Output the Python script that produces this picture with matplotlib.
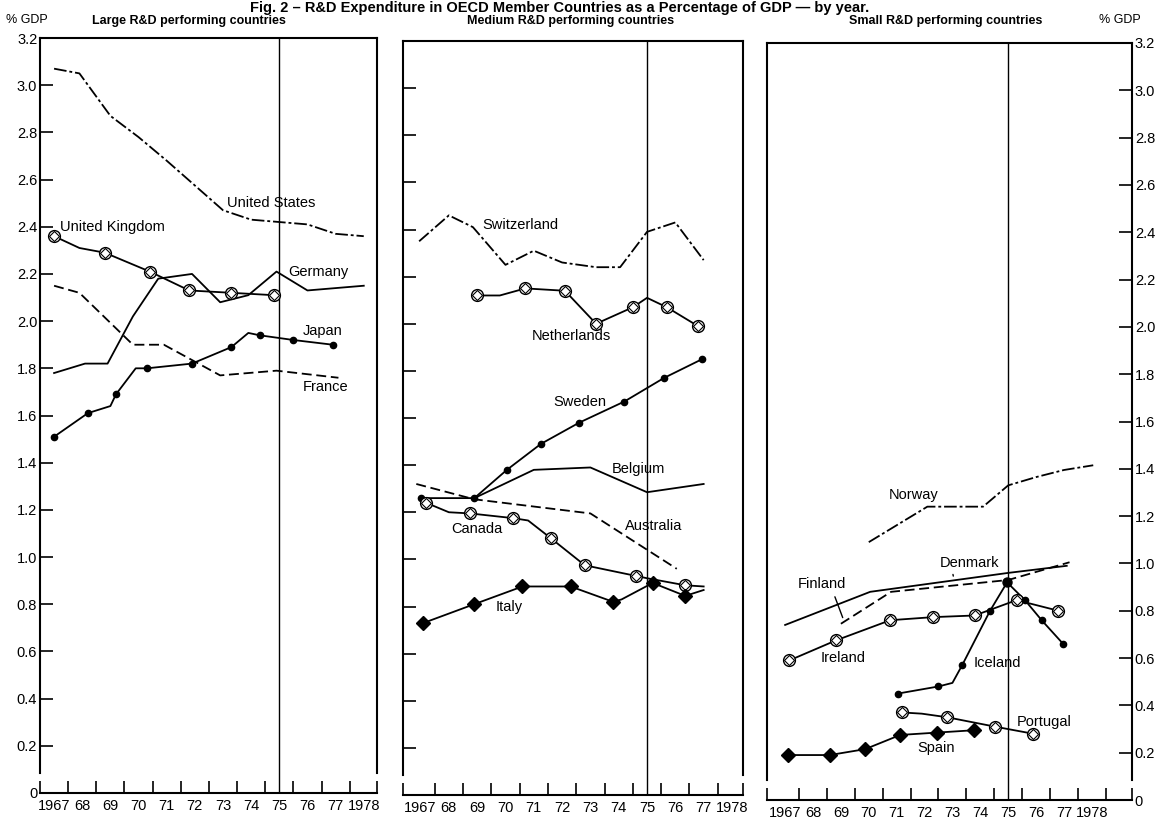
import numpy as np
import matplotlib
matplotlib.use("Agg")
import matplotlib.pyplot as plt

plt.rcParams['font.family'] = ['Liberation Sans', 'DejaVu Sans']

# ---- data (year, % of GDP) ----
# Large R&D performing countries
us_x = [1967, 1967.9, 1969, 1970, 1971, 1972, 1973, 1974, 1975, 1976, 1977, 1978]
us_y = [3.07, 3.05, 2.87, 2.78, 2.68, 2.575, 2.47, 2.43, 2.42, 2.41, 2.37, 2.36]
uk_x = [1967, 1967.9, 1968.8, 1970.4, 1971.8, 1973.3, 1974.8]
uk_y = [2.36, 2.31, 2.29, 2.21, 2.13, 2.12, 2.11]
uk_marks = [0, 2, 3, 4, 5, 6]
de_x = [1967, 1968.1, 1968.9, 1969.8, 1970.7, 1971.9, 1972.9, 1973.9, 1974.9, 1976, 1978]
de_y = [1.78, 1.82, 1.82, 2.02, 2.18, 2.20, 2.08, 2.11, 2.21, 2.13, 2.15]
fr_x = [1967, 1967.9, 1969.8, 1970.9, 1972.9, 1974.9, 1977.1]
fr_y = [2.15, 2.12, 1.90, 1.90, 1.77, 1.79, 1.76]
jp_x = [1967, 1968.2, 1969.0, 1969.2, 1969.9, 1970.3, 1971.9, 1973.3, 1973.9, 1974.3, 1975.5, 1976.9]
jp_y = [1.51, 1.61, 1.64, 1.69, 1.80, 1.80, 1.82, 1.89, 1.95, 1.94, 1.92, 1.90]
jp_marks = [0, 1, 3, 5, 6, 7, 9, 10, 11]

# Medium R&D performing countries
ch_x = [1966.95, 1968.0, 1968.85, 1970.0, 1971.0, 1972.0, 1973.2, 1974.05, 1975.0, 1976.0, 1977.0]
ch_y = [2.35, 2.46, 2.41, 2.25, 2.31, 2.26, 2.24, 2.24, 2.39, 2.43, 2.27]
nl_x = [1969.0, 1969.8, 1970.7, 1972.1, 1973.2, 1974.5, 1975.0, 1975.7, 1976.8]
nl_y = [2.12, 2.12, 2.15, 2.14, 2.00, 2.07, 2.11, 2.07, 1.99]
nl_marks = [0, 2, 3, 4, 5, 7, 8]
se_x = [1968.9, 1970.05, 1971.25, 1972.6, 1974.2, 1975.6, 1976.95]
se_y = [1.26, 1.38, 1.49, 1.58, 1.67, 1.77, 1.85]
be_x = [1967.0, 1968.9, 1971.0, 1973.0, 1975.0, 1977.0]
be_y = [1.26, 1.26, 1.38, 1.39, 1.285, 1.32]
au_x = [1966.85, 1968.9, 1973.0, 1976.05]
au_y = [1.32, 1.255, 1.195, 0.96]
ca_x = [1967.2, 1968.0, 1968.75, 1970.27, 1970.8, 1971.6, 1972.8, 1974.6, 1975.0, 1976.35, 1977.0]
ca_y = [1.24, 1.20, 1.195, 1.175, 1.165, 1.09, 0.975, 0.93, 0.92, 0.89, 0.885]
ca_marks = [0, 2, 3, 5, 6, 7, 9]
it_x = [1967.1, 1968.9, 1970.6, 1972.3, 1973.8, 1974.1, 1975.2, 1976.35, 1977.0]
it_y = [0.73, 0.81, 0.885, 0.885, 0.82, 0.83, 0.90, 0.845, 0.87]
it_marks = [0, 1, 2, 3, 4, 6, 7]

# Small R&D performing countries
no_x = [1970.0, 1972.1, 1974.1, 1975.0, 1976.0, 1977.0, 1978.05]
no_y = [1.09, 1.24, 1.24, 1.33, 1.365, 1.395, 1.415]
dk_x = [1967.0, 1970.05, 1975.0, 1977.1]
dk_y = [0.74, 0.88, 0.96, 0.99]
fi_x = [1969.0, 1970.8, 1975.0, 1977.2]
fi_y = [0.745, 0.88, 0.93, 1.005]
ie_x = [1967.15, 1968.83, 1970.77, 1972.3, 1973.8, 1975.3, 1976.8]
ie_y = [0.59, 0.675, 0.76, 0.773, 0.78, 0.845, 0.80]
is_x = [1971.05, 1972.5, 1973.0, 1973.35, 1974.35, 1974.96, 1975.6, 1976.2, 1976.97]
is_y = [0.45, 0.48, 0.495, 0.57, 0.80, 0.92, 0.845, 0.76, 0.66]
is_marks = [0, 1, 3, 4, 6, 7, 8]
is_peak = [5]
pt_x = [1971.2, 1971.9, 1972.8, 1974.53, 1975.9]
pt_y = [0.37, 0.365, 0.35, 0.31, 0.28]
pt_marks = [0, 2, 3, 4]
es_x = [1967.1, 1968.6, 1969.87, 1971.13, 1972.45, 1973.78]
es_y = [0.19, 0.19, 0.215, 0.275, 0.285, 0.295]

years = list(range(1967, 1979))
year_labels = ['1967'] + [str(y)[2:] for y in years[1:-1]] + ['1978']
y_ticks = np.arange(0, 3.21, 0.2)
y_labels = ['0'] + ['%.1f' % v for v in y_ticks[1:]]

W, H = 1166, 826
fig = plt.figure(figsize=(W / 100, H / 100), dpi=100)


def box(px_left, px_right, px_top, px_bottom):
    return [px_left / W, 1 - px_bottom / H, (px_right - px_left) / W, (px_bottom - px_top) / H]


LW = 1.3
DASHDOT = (0, (7, 1.6, 1.6, 1.6))
DASHED = (0, (5.5, 2.6))
TICKFONT = 10.5


def setup(ax, xlim, side):
    ax.set_xlim(*xlim)
    ax.set_ylim(0, 3.2)
    for s in ax.spines.values():
        s.set_linewidth(1.5)
    ax.spines['left'].set_bounds(0.085, 3.2)
    ax.spines['right'].set_bounds(0.085, 3.2)
    ax.set_xticks(years)
    ax.set_xticklabels(year_labels)
    minor = [y + 0.5 for y in years if y + 0.5 < xlim[1] - 0.2] + [xlim[0], xlim[1]]
    ax.set_xticks(minor, minor=True)
    ax.tick_params(axis='x', which='major', length=0, pad=4, labelsize=TICKFONT)
    ax.tick_params(axis='x', which='minor', direction='in', length=8.5, width=1.2)
    ax.set_yticks(y_ticks)
    ax.set_yticklabels(y_labels)
    if side == 'left':
        ax.tick_params(axis='y', direction='in', length=9.5, width=1.2, labelsize=TICKFONT, pad=2)
    elif side == 'right':
        ax.tick_params(axis='y', direction='in', length=9.5, width=1.2, labelsize=TICKFONT, pad=2,
                       left=False, labelleft=False, right=True, labelright=True)
    else:
        ax.tick_params(axis='y', direction='in', length=9.5, width=1.2, labelleft=False)
    ax.axvline(1975, color='black', lw=1.0)


def circles(ax, x, y, idx):
    xs = [x[i] for i in idx]
    ys = [y[i] for i in idx]
    ax.plot(xs, ys, 'o', ms=8.5, mfc='white', mec='black', mew=1.0, zorder=4)
    ax.plot(xs, ys, 'D', ms=5.5, mfc='none', mec='black', mew=0.8, zorder=5)


def dots(ax, x, y, idx, ms=4.5):
    ax.plot([x[i] for i in idx], [y[i] for i in idx], 'o', ms=ms, color='black', zorder=4)


def diamonds(ax, x, y, idx):
    ax.plot([x[i] for i in idx], [y[i] for i in idx], 'D', ms=7, color='black', zorder=4)


lab = dict(fontsize=10.5, va='center')

# ---- left panel ----
ax1 = fig.add_axes(box(40, 377, 38, 793))
setup(ax1, (1966.5, 1978.47), 'left')
ax1.plot(us_x, us_y, color='black', lw=LW, ls=DASHDOT)
ax1.plot(uk_x, uk_y, color='black', lw=LW)
circles(ax1, uk_x, uk_y, uk_marks)
ax1.plot(de_x, de_y, color='black', lw=LW)
ax1.plot(fr_x, fr_y, color='black', lw=LW, ls=DASHED)
ax1.plot(jp_x, jp_y, color='black', lw=LW)
dots(ax1, jp_x, jp_y, jp_marks)
ax1.text(1974.7, 2.50, 'United States', ha='center', **lab)
ax1.text(1967.2, 2.40, 'United Kingdom', **lab)
ax1.text(1975.3, 2.21, 'Germany', **lab)
ax1.text(1975.85, 1.96, 'Japan', **lab)
ax1.text(1975.85, 1.72, 'France', **lab)

# ---- middle panel ----
ax2 = fig.add_axes(box(403, 743, 41, 795))
setup(ax2, (1966.38, 1978.39), 'none')
ax2.plot(ch_x, ch_y, color='black', lw=LW, ls=DASHDOT)
ax2.plot(nl_x, nl_y, color='black', lw=LW)
circles(ax2, nl_x, nl_y, nl_marks)
ax2.plot(be_x, be_y, color='black', lw=LW)
dots(ax2, be_x, be_y, [0])
ax2.plot(se_x, se_y, color='black', lw=LW)
dots(ax2, se_x, se_y, range(len(se_x)))
ax2.plot(au_x, au_y, color='black', lw=LW, ls=DASHED)
ax2.plot(ca_x, ca_y, color='black', lw=LW)
circles(ax2, ca_x, ca_y, ca_marks)
ax2.plot(it_x, it_y, color='black', lw=LW)
diamonds(ax2, it_x, it_y, it_marks)
ax2.text(1969.17, 2.42, 'Switzerland', **lab)
ax2.text(1970.94, 1.95, 'Netherlands', **lab)
ax2.text(1971.68, 1.67, 'Sweden', **lab)
ax2.text(1973.76, 1.385, 'Belgium', **lab)
ax2.text(1968.1, 1.13, 'Canada', **lab)
ax2.text(1974.22, 1.14, 'Australia', **lab)
ax2.text(1969.66, 0.80, 'Italy', **lab)

# ---- right panel ----
ax3 = fig.add_axes(box(767, 1132, 43, 800))
setup(ax3, (1966.35, 1979.44), 'right')
ax3.plot(no_x, no_y, color='black', lw=LW, ls=DASHDOT)
ax3.plot(dk_x, dk_y, color='black', lw=LW)
ax3.plot(fi_x, fi_y, color='black', lw=LW, ls=DASHED)
ax3.plot(ie_x, ie_y, color='black', lw=LW)
circles(ax3, ie_x, ie_y, range(len(ie_x)))
ax3.plot(is_x, is_y, color='black', lw=LW)
dots(ax3, is_x, is_y, is_marks)
dots(ax3, is_x, is_y, is_peak, ms=6.5)
ax3.plot(pt_x, pt_y, color='black', lw=LW)
circles(ax3, pt_x, pt_y, pt_marks)
ax3.plot(es_x, es_y, color='black', lw=LW)
diamonds(ax3, es_x, es_y, range(len(es_x)))
ax3.text(1970.7, 1.29, 'Norway', **lab)
ax3.text(1972.56, 1.0, 'Denmark', **lab)
ax3.text(1967.44, 0.915, 'Finland', **lab)
ax3.text(1968.26, 0.60, 'Ireland', **lab)
ax3.text(1973.75, 0.58, 'Iceland', **lab)
ax3.text(1975.32, 0.33, 'Portugal', **lab)
ax3.text(1971.74, 0.22, 'Spain', **lab)
ax3.annotate('', xy=(1969.1, 0.76), xytext=(1968.75, 0.87),
             arrowprops=dict(arrowstyle='-', color='black', lw=1.0))
ax3.annotate('', xy=(1973.05, 0.935), xytext=(1973.0, 0.965),
             arrowprops=dict(arrowstyle='-', color='black', lw=1.0))

# ---- headings ----
fig.text(560 / W, 1 - 1 / H,
         'Fig. 2 \u2013 R&D Expenditure in OECD Member Countries as a Percentage of GDP \u2014 by year.',
         ha='center', va='top', fontsize=10.5, fontweight='bold')
fig.text(189 / W, 1 - 21 / H, 'Large R&D performing countries', ha='center', va='center',
         fontsize=9, fontweight='bold')
fig.text(571 / W, 1 - 21 / H, 'Medium R&D performing countries', ha='center', va='center',
         fontsize=9, fontweight='bold')
fig.text(946 / W, 1 - 21 / H, 'Small R&D performing countries', ha='center', va='center',
         fontsize=9, fontweight='bold')
fig.text(27 / W, 1 - 20 / H, '% GDP', ha='center', va='center', fontsize=9)
fig.text(1120 / W, 1 - 20 / H, '% GDP', ha='center', va='center', fontsize=9)

fig.savefig('out.png', dpi=100)
